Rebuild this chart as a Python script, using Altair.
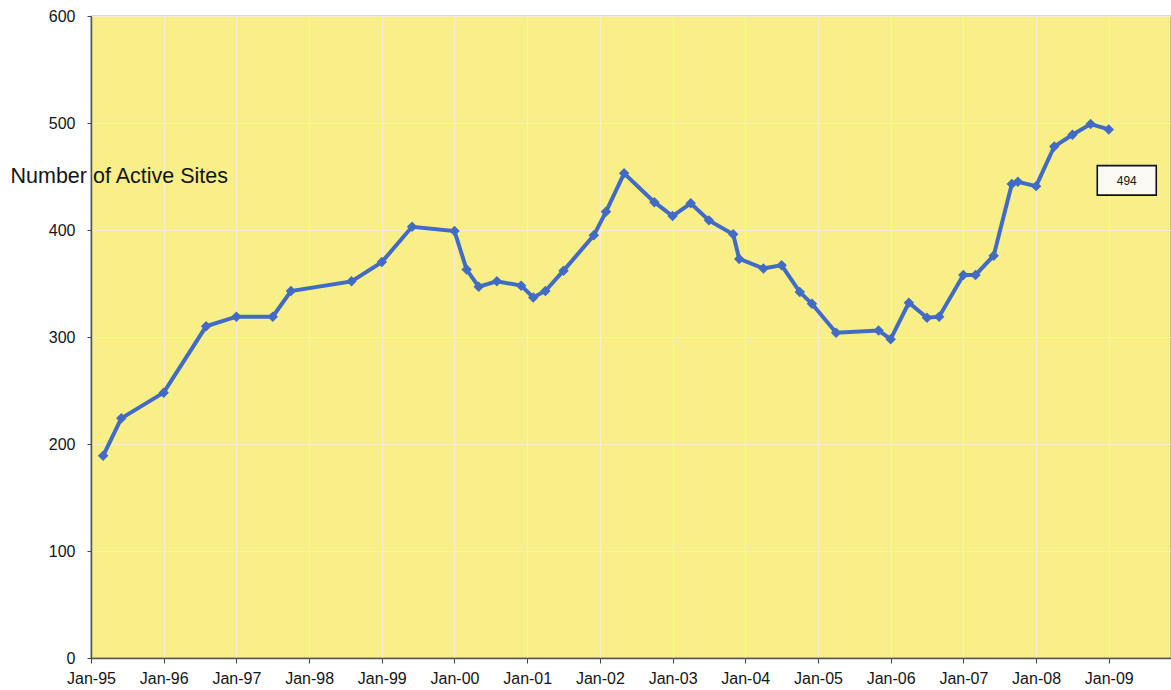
import altair as alt
import pandas as pd

# ---- data ----
months = [
    "1995-03", "1995-06", "1996-01", "1996-08", "1997-01", "1997-07", "1997-10",
    "1998-08", "1999-01", "1999-06", "2000-01", "2000-03", "2000-05", "2000-08",
    "2000-12", "2001-02", "2001-04", "2001-07", "2001-12", "2002-02", "2002-05",
    "2002-10", "2003-01", "2003-04", "2003-07", "2003-11", "2003-12", "2004-04",
    "2004-07", "2004-10", "2004-12", "2005-04", "2005-11", "2006-01", "2006-04",
    "2006-07", "2006-09", "2007-01", "2007-03", "2007-06", "2007-09", "2007-10",
    "2008-01", "2008-04", "2008-07", "2008-10", "2009-01",
]
sites = [
    189, 224, 248, 310, 319, 319, 343,
    352, 370, 403, 399, 363, 347, 352,
    348, 337, 343, 362, 395, 417, 453,
    426, 413, 425, 409, 396, 373, 364,
    367, 342, 331, 304, 306, 298, 332,
    318, 319, 358, 358, 376, 443, 445,
    441, 478, 489, 499, 494,
]
year_ticks = list(range(1995, 2010))
y_ticks = [0, 100, 200, 300, 400, 500, 600]
last_label = "494"

def to_year(m):
    y, mo = m.split("-")
    return int(y) + (int(mo) - 1) / 12.0

df = pd.DataFrame({"t": [to_year(m) for m in months], "sites": sites})
last = df.tail(1).assign(label=last_label)

FONT = "Liberation Sans"
BLUE = "#416bc4"
GRID = "#f4efcf"

x = alt.X(
    "t:Q",
    scale=alt.Scale(domain=[1995.0, 2009.856], nice=False, zero=False),
    axis=alt.Axis(
        values=year_ticks,
        labelExpr="'Jan-' + slice(toString(datum.value), 2)",
        title=None,
        grid=True,
        gridColor=GRID,
        gridWidth=1,
        tickSize=5,
        tickColor="#444",
        labelPadding=7,
        labelFontSize=16,
        labelFont=FONT,
        labelColor="#151515",
        domainColor="#555",
        domainWidth=1.5,
        labelFlush=False,
        labelOverlap=False,
    ),
)
y = alt.Y(
    "sites:Q",
    scale=alt.Scale(domain=[0, 600], nice=False),
    axis=alt.Axis(
        values=y_ticks,
        title="Number of Active Sites",
        titleAngle=0,
        titleAlign="left",
        titleBaseline="middle",
        titleX=-81,
        titleY=160,
        titleFont=FONT,
        titleFontSize=21.5,
        titleFontWeight="normal",
        titleColor="#151515",
        grid=True,
        gridColor=GRID,
        gridWidth=1,
        tickSize=4,
        tickColor="#444",
        labelPadding=12,
        labelFontSize=16,
        labelFont=FONT,
        labelColor="#151515",
        domainColor="#555",
        domainWidth=1.5,
    ),
)

line = alt.Chart(df).mark_line(color=BLUE, strokeWidth=4).encode(x=x, y=y)
pts = alt.Chart(df).mark_point(
    shape="diamond", filled=True, color=BLUE, size=110, opacity=1
).encode(x=x, y=y)

box = alt.Chart(last).mark_point(
    shape="M-1,-0.5H1V0.5H-1Z",
    size=3481,
    filled=False,
    fill="#fbfaf2",
    fillOpacity=1,
    stroke="#111",
    strokeWidth=1.6,
    opacity=1,
    xOffset=18,
    yOffset=51,
).encode(x=x, y=y)
txt = alt.Chart(last).mark_text(
    font=FONT, fontSize=12, color="#111", dx=18, dy=52, baseline="middle", align="center"
).encode(x=x, y=y, text="label:N")

chart = (
    alt.layer(line, pts, box, txt)
    .properties(
        width=1080,
        height=642,
        padding={"left": 91, "top": 16, "right": 0, "bottom": 32},
        autosize=alt.AutoSizeParams(type="none"),
        background="white",
    )
    .configure_view(fill="#f8ef88", stroke="#666", strokeWidth=1.2)
)

chart.save("out.html", embed_options={"renderer": "svg", "actions": False})
